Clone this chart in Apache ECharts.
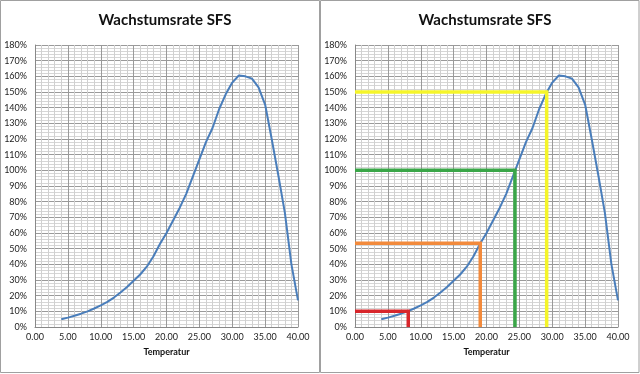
<!DOCTYPE html>
<html>
<head>
<meta charset="utf-8">
<script src="https://cdn.jsdelivr.net/npm/echarts@6/dist/echarts.min.js"></script>
<style>
html,body{margin:0;padding:0;background:#fff;}
#c{width:640px;height:374px;}
</style>
</head>
<body>
<div id="c"></div>
<script>
// ---- data ----
const chartTitle = 'Wachstumsrate SFS';
const xAxisName = 'Temperatur';
const temps = [4,5,6,7,8,9,10,11,12,13,14,15,16,17,18,19,20,21,22,23,24,25,26,27,28,29,30,31,32,33,34,35,36,37,38,39,40];
const rates = [0.05,0.06,0.072,0.085,0.10,0.118,0.138,0.16,0.188,0.22,0.255,0.295,0.335,0.385,0.45,0.53,0.60,0.68,0.76,0.85,0.96,1.07,1.18,1.27,1.39,1.485,1.56,1.605,1.60,1.585,1.53,1.42,1.20,0.97,0.73,0.40,0.17];
// guide lines in the right panel (temperature, rate, colour)
const guideTemps = [8.1, 19.05, 24.33, 29.15];
const guideRates = [0.10, 0.535, 1.00, 1.50];
const guideColors = ['#d8262b', '#f28a3c', '#3aa648', '#f5f52a'];
const xTicks = [0,5,10,15,20,25,30,35,40];
const yTicks = [0,0.1,0.2,0.3,0.4,0.5,0.6,0.7,0.8,0.9,1.0,1.1,1.2,1.3,1.4,1.5,1.6,1.7,1.8];

const curve = temps.map((t,i)=>[t,rates[i]]);

function xAxis(idx){
  return {
    type:'value', gridIndex:idx, min:xTicks[0], max:xTicks[xTicks.length-1], interval:5,
    name:xAxisName, nameLocation:'middle', nameGap:21,
    nameTextStyle:{fontFamily:'Lato', fontWeight:'bold', fontSize:9, color:'#111'},
    axisLine:{show:true, lineStyle:{color:'#888', width:1}},
    axisTick:{show:false},
    axisLabel:{fontFamily:'Lato', fontSize:9, color:'#222', margin:6, formatter:v=>v.toFixed(2)},
    splitLine:{show:true, lineStyle:{color:'#9a9a9a', width:1}},
    minorTick:{show:false, splitNumber:5},
    minorSplitLine:{show:true, lineStyle:{color:'#d0d0d0', width:1}}
  };
}
function yAxis(idx){
  return {
    type:'value', gridIndex:idx, min:yTicks[0], max:yTicks[yTicks.length-1], interval:0.1,
    axisLine:{show:true, lineStyle:{color:'#888', width:1}},
    axisTick:{show:false},
    axisLabel:{fontFamily:'Lato', fontSize:9, color:'#222', margin:8, formatter:v=>Math.round(v*100)+'%'},
    splitLine:{show:true, lineStyle:{color:'#9a9a9a', width:1}},
    minorTick:{show:false, splitNumber:5},
    minorSplitLine:{show:true, lineStyle:{color:'#d6d6d6', width:1}}
  };
}

const series = [
  {type:'line', xAxisIndex:0, yAxisIndex:0, data:curve, showSymbol:false, symbol:'none',
   lineStyle:{color:'#4a7ebb', width:2}, silent:true, z:3},
  {type:'line', xAxisIndex:1, yAxisIndex:1, data:curve, showSymbol:false, symbol:'none',
   lineStyle:{color:'#4a7ebb', width:2}, silent:true, z:3}
];
guideTemps.forEach((t,i)=>{
  series.push({type:'line', xAxisIndex:1, yAxisIndex:1, symbol:'none', silent:true, z:4,
    data:[[0,guideRates[i]],[t,guideRates[i]],[t,0]],
    lineStyle:{color:guideColors[i], width:3.5, join:'miter', cap:'butt'}});
});

const chart = echarts.init(document.getElementById('c'), null, {renderer:'canvas'});
chart.setOption({
  animation:false,
  backgroundColor:'#fff',
  title:[
    {text:chartTitle, left:160, top:8, textAlign:'center',
     textStyle:{fontFamily:'Lato', fontWeight:'bold', fontSize:15, color:'#111'}},
    {text:chartTitle, left:480, top:8, textAlign:'center',
     textStyle:{fontFamily:'Lato', fontWeight:'bold', fontSize:15, color:'#111'}}
  ],
  grid:[
    {left:35, top:45, width:263, height:282, containLabel:false},
    {left:355, top:45, width:263, height:282, containLabel:false}
  ],
  xAxis:[xAxis(0), xAxis(1)],
  yAxis:[yAxis(0), yAxis(1)],
  series:series,
  graphic:[
    {type:'rect', shape:{x:0.5, y:0.5, width:319, height:372}, style:{fill:'none', stroke:'#a0a0a0', lineWidth:1}, silent:true},
    {type:'rect', shape:{x:320.5, y:0.5, width:318.5, height:372}, style:{fill:'none', stroke:'#a0a0a0', lineWidth:1}, silent:true}
  ]
});
</script>
</body>
</html>
